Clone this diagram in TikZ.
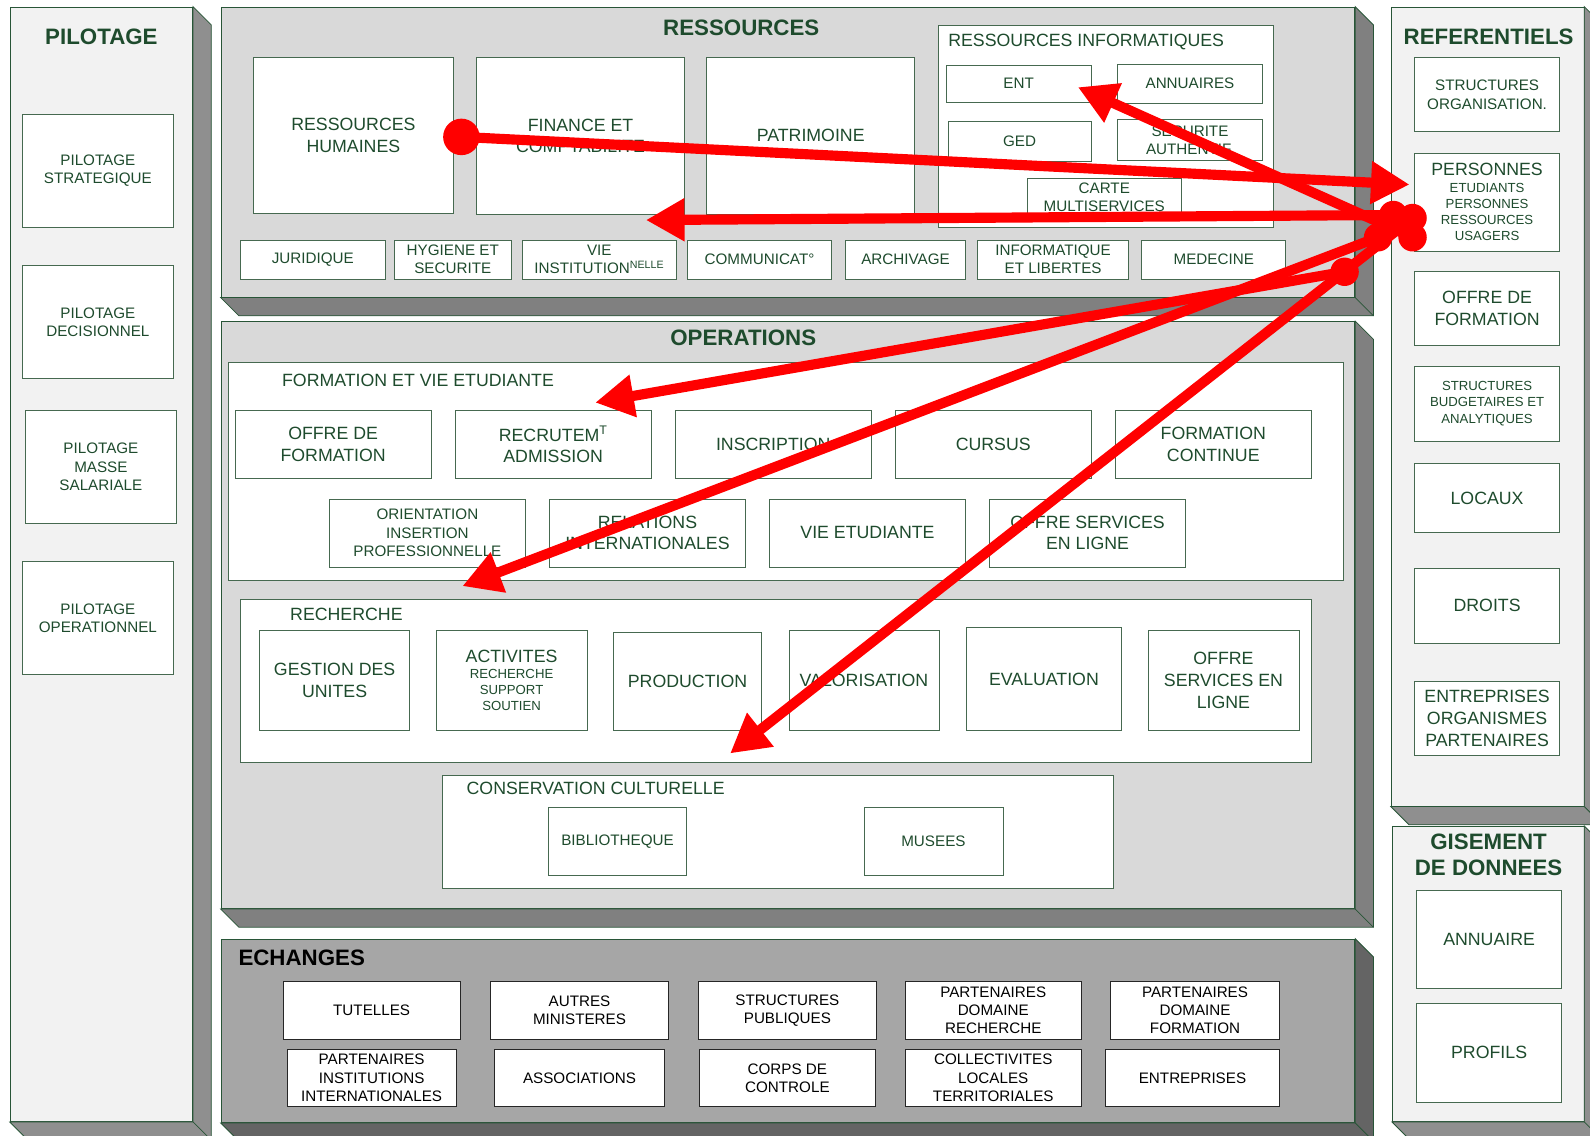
\documentclass[tikz,border=0pt]{standalone}
\usepackage{fontspec}
\setmainfont{Liberation Sans}
\usetikzlibrary{arrows.meta}

\definecolor{ink}{RGB}{30,75,45}
\definecolor{edge}{RGB}{40,85,55}
\definecolor{boxline}{RGB}{70,105,80}
\definecolor{panelpale}{RGB}{242,242,242}
\definecolor{panelgrey}{RGB}{217,217,217}
\definecolor{paneldark}{RGB}{166,166,166}
\definecolor{sidepale}{RGB}{143,143,143}
\definecolor{sidegrey}{RGB}{128,128,128}
\definecolor{sidedark}{RGB}{100,100,100}

\newcommand\fsmall{\fontsize{15}{18}\selectfont}
\newcommand\fbig{\fontsize{17.5}{21.5}\selectfont}
\newcommand\ftiny{\fontsize{13}{16}\selectfont}
\newcommand\ftitle{\fontsize{22}{25}\selectfont\bfseries}

\tikzset{
  panel/.style={draw=edge, line width=0.8pt, inner sep=0pt},
  box/.style={draw=boxline, fill=white, line width=0.7pt, align=center, inner sep=1pt, text=ink, font=\fsmall},
  bigbox/.style={box, font=\fbig},
  group/.style={draw=boxline, fill=white, line width=0.7pt, inner sep=0pt},
  xbox/.style={box, draw=black!85, text=black},
  heading/.style={font=\ftitle, text=ink, align=center},
  grouplabel/.style={font=\fbig, text=ink, anchor=west, inner sep=0pt},
  dot/.style={circle, fill=red, inner sep=0pt},
  flow/.style={red, line width=10pt, -{Triangle[length=38pt,width=40pt]}},
}

\begin{document}
\begin{tikzpicture}[x=1pt, y=-1pt]
\useasboundingbox (0,0) rectangle (1568,1120);

% panels
\node[panel, fill=panelpale, minimum width=180, minimum height=1099] (pil) at (100,556.5) {};
\node[panel, fill=panelgrey, minimum width=1118, minimum height=286] (ress) at (777,150) {};
\node[panel, fill=panelgrey, minimum width=1118, minimum height=579] (oper) at (777,606.5) {};
\node[panel, fill=paneldark, minimum width=1118, minimum height=181] (ech) at (777,1016.5) {};
\node[panel, fill=panelpale, minimum width=190, minimum height=788] (ref) at (1467,401) {};
\node[panel, fill=panelpale, minimum width=189, minimum height=291] (gis) at (1467.5,960.5) {};
\foreach \p/\s in {pil/sidepale, ress/sidegrey, oper/sidegrey, ech/sidedark, ref/sidepale, gis/sidepale}{
  \filldraw[draw=edge, fill=\s, line width=0.8pt] (\p.north east) -- ++(18,18) -- ([shift={(18,18)}]\p.south east) -- ([shift={(18,18)}]\p.south west) -- (\p.south west) -- (\p.south east) -- cycle;
  \draw[edge, line width=0.8pt] (\p.south east) -- ++(18,18);
}

% titles
\node[heading] (tpil) at (100,36) {PILOTAGE};
\node[heading] (tress) at (731,27) {RESSOURCES};
\node[heading] (toper) at (733,333) {OPERATIONS};
\node[heading, text=black, anchor=west, inner sep=0pt] (tech) at (235,945) {ECHANGES};
\node[heading] (tref) at (1468,36) {REFERENTIELS};
\node[heading] (tgis) at (1468,843) {GISEMENT\\DE DONNEES};

% pilotage
\node[box, minimum width=149, minimum height=111] (pstrat) at (96.5,168.5) {PILOTAGE\\STRATEGIQUE};
\node[box, minimum width=149, minimum height=111] (pdeci) at (96.5,317.5) {PILOTAGE\\DECISIONNEL};
\node[box, minimum width=149, minimum height=111] (pmasse) at (99.5,460.5) {PILOTAGE\\MASSE\\SALARIALE};
\node[box, minimum width=149, minimum height=111] (poper) at (96.5,609.5) {PILOTAGE\\OPERATIONNEL};

% ressources
\node[bigbox, minimum width=197, minimum height=153] (rh) at (348.5,133.5) {RESSOURCES\\HUMAINES};
\node[bigbox, minimum width=205, minimum height=154] (fin) at (572.5,134) {FINANCE ET\\COMPTABILITE};
\node[bigbox, minimum width=205, minimum height=154] (patr) at (799.5,134) {PATRIMOINE};
\node[group, minimum width=331, minimum height=199] (rinfo) at (1090.5,124.5) {};
\node[grouplabel] (lrinfo) at (935,41) {RESSOURCES INFORMATIQUES};
\node[box, minimum width=143, minimum height=37] (ent) at (1004.5,82.5) {ENT};
\node[box, minimum width=143, minimum height=39] (annu) at (1173.5,82.5) {ANNUAIRES};
\node[box, minimum width=141, minimum height=39] (ged) at (1005.5,139.5) {GED};
\node[box, minimum width=143, minimum height=40] (secu) at (1173.5,138) {SECURITE\\AUTHENTIF.};
\node[box, minimum width=152, minimum height=37] (carte) at (1089,194.5) {CARTE\\MULTISERVICES};
\node[box, minimum width=143, minimum height=38] (jur) at (308.5,256) {JURIDIQUE};
\node[box, minimum width=115, minimum height=38] (hyg) at (446.5,256) {HYGIENE ET\\SECURITE};
\node[box, minimum width=152, minimum height=38] (vinst) at (591,256) {VIE\\INSTITUTION\textsuperscript{NELLE}};
\node[box, minimum width=142, minimum height=38] (comm) at (749,256) {COMMUNICAT°};
\node[box, minimum width=118, minimum height=38] (arch) at (893,256) {ARCHIVAGE};
\node[box, minimum width=149, minimum height=38] (infl) at (1038.5,256) {INFORMATIQUE\\ET LIBERTES};
\node[box, minimum width=142, minimum height=38] (med) at (1197,256) {MEDECINE};

% operations
\node[group, minimum width=1100, minimum height=215] (fve) at (775,464.5) {};
\node[grouplabel] (lfve) at (278,375) {FORMATION ET VIE ETUDIANTE};
\node[bigbox, minimum width=193, minimum height=67] (ofor) at (328.5,438.5) {OFFRE DE\\FORMATION};
\node[bigbox, minimum width=193, minimum height=67] (recru) at (545.5,438.5) {RECRUTEM\textsuperscript{T}\\ADMISSION};
\node[bigbox, minimum width=193, minimum height=67] (insc) at (762.5,438.5) {INSCRIPTION};
\node[bigbox, minimum width=193, minimum height=67] (curs) at (979.5,438.5) {CURSUS};
\node[bigbox, minimum width=193, minimum height=67] (fcont) at (1196.5,438.5) {FORMATION\\CONTINUE};
\node[box, minimum width=193, minimum height=67] (orient) at (421.5,525.5) {ORIENTATION\\INSERTION\\PROFESSIONNELLE};
\node[bigbox, minimum width=193, minimum height=67] (relint) at (638.5,525.5) {RELATIONS\\INTERNATIONALES};
\node[bigbox, minimum width=193, minimum height=67] (viee) at (855.5,525.5) {VIE ETUDIANTE};
\node[bigbox, minimum width=193, minimum height=67] (offsl) at (1072.5,525.5) {OFFRE SERVICES\\EN LIGNE};

\node[group, minimum width=1056, minimum height=161] (rech) at (765,671.5) {};
\node[grouplabel] (lrech) at (286,606) {RECHERCHE};
\node[bigbox, minimum width=148, minimum height=98] (gdu) at (330,671) {GESTION DES\\UNITES};
\node[box, font=\ftiny, minimum width=149, minimum height=98] (activ) at (504.5,671) {{\fbig ACTIVITES}\\RECHERCHE\\SUPPORT\\SOUTIEN};
\node[bigbox, minimum width=146, minimum height=96] (prod) at (678,672) {PRODUCTION};
\node[bigbox, minimum width=148, minimum height=98] (valo) at (852,671) {VALORISATION};
\node[bigbox, minimum width=153, minimum height=101] (eval) at (1029.5,669.5) {EVALUATION};
\node[bigbox, minimum width=149, minimum height=98] (offrech) at (1206.5,671) {OFFRE\\SERVICES EN\\LIGNE};

\node[group, minimum width=662, minimum height=111] (cons) at (767,820.5) {};
\node[grouplabel] (lcons) at (460,777) {CONSERVATION CULTURELLE};
\node[box, minimum width=136, minimum height=67] (bib) at (609,829.5) {BIBLIOTHEQUE};
\node[box, minimum width=137, minimum height=67] (mus) at (920.5,829.5) {MUSEES};

% echanges
\node[xbox, minimum width=175, minimum height=57] (tut) at (366.5,996.5) {TUTELLES};
\node[xbox, minimum width=175, minimum height=57] (autm) at (571.5,996.5) {AUTRES\\MINISTERES};
\node[xbox, minimum width=175, minimum height=57] (stpub) at (776.5,996.5) {STRUCTURES\\PUBLIQUES};
\node[xbox, minimum width=173, minimum height=57] (parrech) at (979.5,996.5) {PARTENAIRES\\DOMAINE\\RECHERCHE};
\node[xbox, minimum width=167, minimum height=57] (parform) at (1178.5,996.5) {PARTENAIRES\\DOMAINE\\FORMATION};
\node[xbox, minimum width=167, minimum height=56] (parint) at (366.5,1063) {PARTENAIRES\\INSTITUTIONS\\INTERNATIONALES};
\node[xbox, minimum width=167, minimum height=56] (assoc) at (571.5,1063) {ASSOCIATIONS};
\node[xbox, minimum width=173, minimum height=56] (corps) at (776.5,1063) {CORPS DE\\CONTROLE};
\node[xbox, minimum width=173, minimum height=56] (coll) at (979.5,1063) {COLLECTIVITES\\LOCALES\\TERRITORIALES};
\node[xbox, minimum width=172, minimum height=56] (entr) at (1176,1063) {ENTREPRISES};

% referentiels
\node[box, minimum width=143, minimum height=73] (rstruct) at (1466.5,93.5) {STRUCTURES\\ORGANISATION.};
\node[box, font=\ftiny, minimum width=143, minimum height=97] (rpers) at (1466.5,199.5) {{\fbig PERSONNES}\\ETUDIANTS\\PERSONNES\\RESSOURCES\\USAGERS};
\node[bigbox, minimum width=143, minimum height=73] (roff) at (1466.5,304.5) {OFFRE DE\\FORMATION};
\node[box, font=\ftiny, minimum width=143, minimum height=74] (rbudg) at (1466.5,398) {STRUCTURES\\BUDGETAIRES ET\\ANALYTIQUES};
\node[bigbox, minimum width=143, minimum height=68] (rloc) at (1466.5,491) {LOCAUX};
\node[bigbox, minimum width=143, minimum height=74] (rdroit) at (1466.5,597) {DROITS};
\node[bigbox, minimum width=143, minimum height=73] (rentr) at (1466.5,708.5) {ENTREPRISES\\ORGANISMES\\PARTENAIRES};

% gisement
\node[bigbox, minimum width=143, minimum height=97] (gannu) at (1468.5,926.5) {ANNUAIRE};
\node[bigbox, minimum width=143, minimum height=98] (gprof) at (1468.5,1038) {PROFILS};

% flows
\node[dot, minimum size=36] (dotrh) at (455,135) {};
\node[dot, minimum size=28] (dotpa) at (1374,212) {};
\node[dot, minimum size=28] (dotpb) at (1393,215) {};
\node[dot, minimum size=28] (dotpc) at (1393,234) {};
\node[dot, minimum size=28] (dotpd) at (1359,234) {};
\node[dot, minimum size=28] (dotpe) at (1326,268) {};
\coordinate (tippers) at (1390,182);
\coordinate (tipfin) at (637,217);
\coordinate (tipent) at (1063,86);
\coordinate (tiprecru) at (587,397);
\coordinate (tiporient) at (456,578);
\coordinate (tipprod) at (720,743);
\draw[flow] (dotrh.center) -- (tippers);
\draw[flow] (dotpa.center) -- (tipfin);
\draw[flow] (dotpc.center) -- (tipent);
\draw[flow] (dotpe.center) -- (tiprecru);
\draw[flow] (dotpd.center) -- (tiporient);
\draw[flow] (dotpb.center) -- (tipprod);
\end{tikzpicture}
\end{document}
